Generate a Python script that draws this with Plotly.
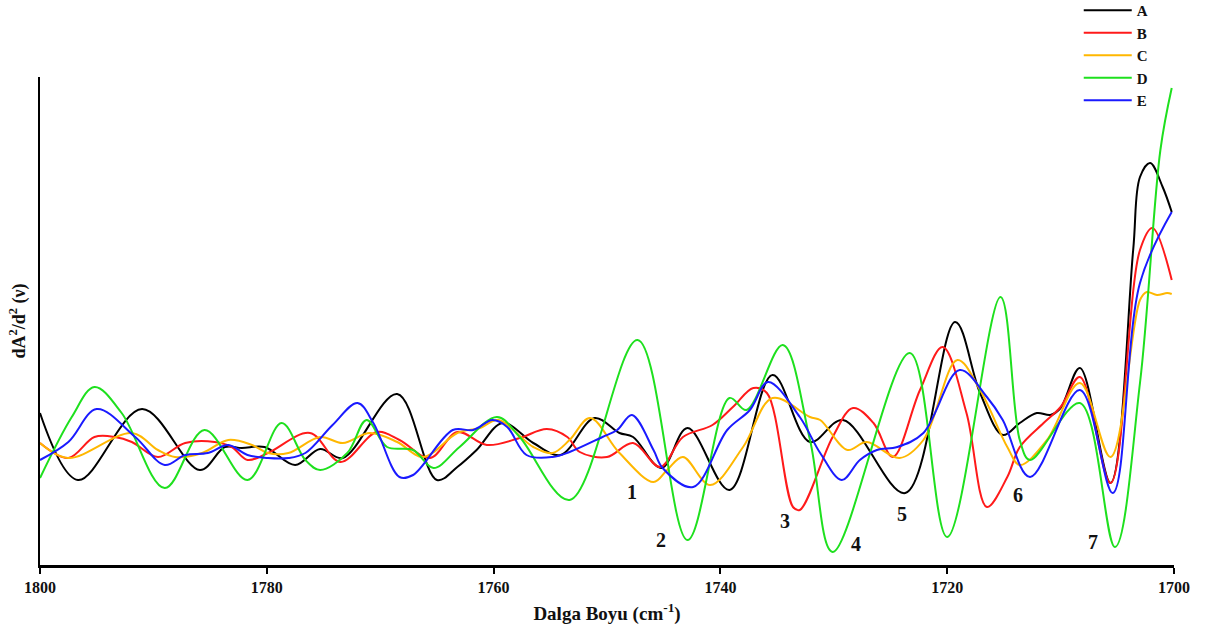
import plotly.graph_objects as go

# ---- data (wavenumber cm-1, second-derivative intensity, arbitrary units) ----
xA = [1800.0, 1796.65, 1791.0, 1785.9, 1783.7, 1782.2, 1780.2, 1777.5, 1775.3, 1773.3, 1768.5, 1765.0,
      1763.2, 1761.5, 1759.2, 1756.5, 1754.1, 1751.1, 1748.9, 1747.7, 1745.2, 1742.9, 1739.2, 1735.4,
      1732.1, 1729.2, 1723.7, 1719.3, 1717.1, 1715.1, 1713.6, 1712.1, 1710.9, 1710.0, 1708.3, 1705.6,
      1703.6, 1703.0, 1702.1, 1701.0, 1700.2]
yA = [0.42, -0.25, 0.46, -0.15, 0.08, 0.07, 0.08, -0.10, 0.06, -0.03, 0.61, -0.25,
      -0.12, 0.05, 0.32, 0.12, 0.00, 0.37, 0.22, 0.18, -0.13, 0.27, -0.35, 0.80,
      0.13, 0.35, -0.38, 1.33, 0.62, 0.20, 0.32, 0.42, 0.40, 0.47, 0.87, -0.28,
      2.05, 2.78, 2.92, 2.68, 2.43]

xB = [1800.0, 1797.5, 1795.2, 1793.4, 1791.9, 1789.6, 1787.2, 1784.6, 1783.1, 1781.7, 1779.9, 1776.2,
      1773.5, 1770.3, 1768.3, 1765.6, 1763.2, 1760.6, 1757.7, 1755.3, 1753.5, 1752.4, 1750.0, 1747.7,
      1745.3, 1743.3, 1740.7, 1738.9, 1737.1, 1735.9, 1733.6, 1733.0, 1730.1, 1728.3, 1726.5, 1724.8,
      1722.4, 1720.4, 1718.3, 1716.5, 1714.7, 1713.6, 1711.5, 1710.0, 1708.3, 1705.6, 1703.0, 1701.9,
      1700.2]
yB = [0.12, -0.03, 0.18, 0.18, 0.13, -0.02, 0.12, 0.13, 0.08, -0.05, 0.02, 0.22,
      -0.07, 0.23, 0.15, -0.03, 0.23, 0.10, 0.17, 0.26, 0.18, 0.03, -0.02, 0.12,
      -0.12, 0.18, 0.30, 0.48, 0.67, 0.62, -0.52, -0.55, 0.18, 0.47, 0.32, -0.02,
      0.65, 1.08, 0.42, -0.52, -0.22, 0.08, 0.32, 0.48, 0.78, -0.28, 2.05, 2.27,
      1.75]

xC = [1800.0, 1797.5, 1791.9, 1789.6, 1788.1, 1785.7, 1783.4, 1781.3, 1779.9, 1778.1, 1775.3, 1773.3,
      1770.9, 1768.5, 1766.2, 1763.2, 1761.2, 1759.6, 1756.5, 1754.8, 1753.3, 1751.5, 1748.9, 1745.9,
      1744.7, 1743.3, 1740.9, 1738.0, 1735.4, 1732.1, 1731.2, 1728.8, 1727.1, 1724.2, 1722.1, 1719.1,
      1717.1, 1714.7, 1713.6, 1711.2, 1708.3, 1705.6, 1703.0, 1702.4, 1701.5, 1700.6, 1700.2]
yC = [0.12, -0.03, 0.22, 0.05, -0.02, 0.02, 0.15, 0.10, 0.02, 0.02, 0.18, 0.12,
      0.22, 0.13, -0.02, 0.22, 0.27, 0.35, 0.08, 0.02, 0.15, 0.37, 0.02, -0.27,
      -0.15, -0.02, -0.30, 0.08, 0.57, 0.38, 0.35, 0.05, 0.13, -0.03, 0.15, 0.95,
      0.65, 0.08, -0.10, 0.15, 0.72, -0.02, 1.55, 1.63, 1.60, 1.62, 1.61]

xD = [1800.0, 1797.2, 1795.2, 1792.8, 1789.0, 1785.5, 1781.7, 1778.7, 1776.6, 1775.3, 1772.9, 1771.2,
      1769.4, 1767.1, 1765.3, 1763.0, 1759.7, 1757.7, 1753.3, 1747.3, 1742.9, 1739.2, 1737.7, 1734.5,
      1732.1, 1730.1, 1723.3, 1720.0, 1715.3, 1713.6, 1712.7, 1708.3, 1705.2, 1703.0, 1701.2, 1700.2]
yD = [-0.23, 0.38, 0.68, 0.42, -0.33, 0.25, -0.25, 0.32, -0.05, -0.15, 0.02, 0.35,
      0.08, 0.05, -0.13, 0.08, 0.38, 0.18, -0.45, 1.15, -0.85, 0.57, 0.45, 1.10,
      0.15, -0.97, 1.02, -0.82, 1.58, 0.15, -0.05, 0.52, -0.92, 0.72, 3.05, 3.67]

xE = [1800.0, 1797.5, 1795.0, 1791.6, 1789.0, 1787.2, 1785.2, 1783.4, 1781.7, 1779.9, 1778.1, 1776.6,
      1774.2, 1772.0, 1770.6, 1768.3, 1767.1, 1763.6, 1761.8, 1760.1, 1758.8, 1757.1, 1754.8, 1753.3,
      1750.4, 1749.1, 1747.8, 1745.9, 1745.1, 1742.4, 1739.4, 1737.4, 1735.8, 1733.0, 1731.2, 1729.3,
      1727.7, 1726.2, 1724.4, 1722.1, 1718.9, 1716.5, 1715.1, 1712.7, 1708.3, 1705.4, 1703.0, 1700.2]
yE = [-0.05, 0.13, 0.46, 0.18, -0.10, 0.00, 0.02, 0.10, 0.00, -0.03, -0.03, 0.02,
      0.30, 0.52, 0.32, -0.22, -0.20, 0.25, 0.25, 0.35, 0.28, 0.00, -0.02, 0.03,
      0.18, 0.25, 0.40, 0.05, -0.13, -0.32, 0.25, 0.45, 0.73, 0.38, 0.02, -0.25,
      -0.05, 0.05, 0.08, 0.22, 0.85, 0.58, 0.35, -0.22, 0.65, -0.38, 1.72, 2.43]

series_names = ["A", "B", "C", "D", "E"]
series_colors = ["#000000", "#ff1a1a", "#ffb700", "#1ee01e", "#1a1aff"]

x_ticks = [1800, 1780, 1760, 1740, 1720, 1700]

band_labels = ["1", "2", "3", "4", "5", "6", "7"]
band_x = [1747.8, 1745.2, 1734.3, 1728.0, 1724.0, 1713.8, 1707.1]
band_y = [-0.37, -0.85, -0.66, -0.89, -0.59, -0.40, -0.87]

SERIF = "Liberation Serif, Times New Roman, serif"

fig = go.Figure()
for name, color, xs, ys in zip(series_names, series_colors,
                               [xA, xB, xC, xD, xE], [yA, yB, yC, yD, yE]):
    fig.add_trace(go.Scatter(x=xs, y=ys, mode="lines", name="<b>%s</b>" % name,
                             line=dict(color=color, width=2, shape="spline", smoothing=1.0)))

for t, bx, by in zip(band_labels, band_x, band_y):
    fig.add_annotation(x=bx, y=by, text="<b>%s</b>" % t, showarrow=False,
                       font=dict(family=SERIF, size=20, color="#111111"))

fig.update_layout(
    width=1205, height=629,
    margin=dict(l=40, r=31, t=77, b=64, autoexpand=False),
    paper_bgcolor="white", plot_bgcolor="white",
    showlegend=True,
    legend=dict(x=0.916, y=1.17, xanchor="left", yanchor="top",
                font=dict(family=SERIF, size=15, color="#111111"),
                bgcolor="rgba(0,0,0,0)", itemwidth=48),
    xaxis=dict(range=[1800, 1700], tickvals=x_ticks, ticktext=["<b>%d</b>" % v for v in x_ticks],
               showgrid=False, zeroline=False, showline=True, linecolor="black", linewidth=2.5,
               ticks="outside", ticklen=6, tickwidth=1.5, tickcolor="black",
               tickfont=dict(family=SERIF, size=16, color="#111111"),
               title=dict(text="<b>Dalga Boyu (cm<sup>-1</sup>)</b>", standoff=12,
                          font=dict(family=SERIF, size=19, color="#111111"))),
    yaxis=dict(range=[-1.10, 3.78], showgrid=False, zeroline=False, showline=True,
               linecolor="black", linewidth=1.5, showticklabels=False, ticks="",
               title=dict(text="<b>dA<sup>2</sup>/d<sup>2</sup> (ν)</b>", standoff=8,
                          font=dict(family=SERIF, size=18, color="#111111"))),
)

fig.write_html("out.html")
